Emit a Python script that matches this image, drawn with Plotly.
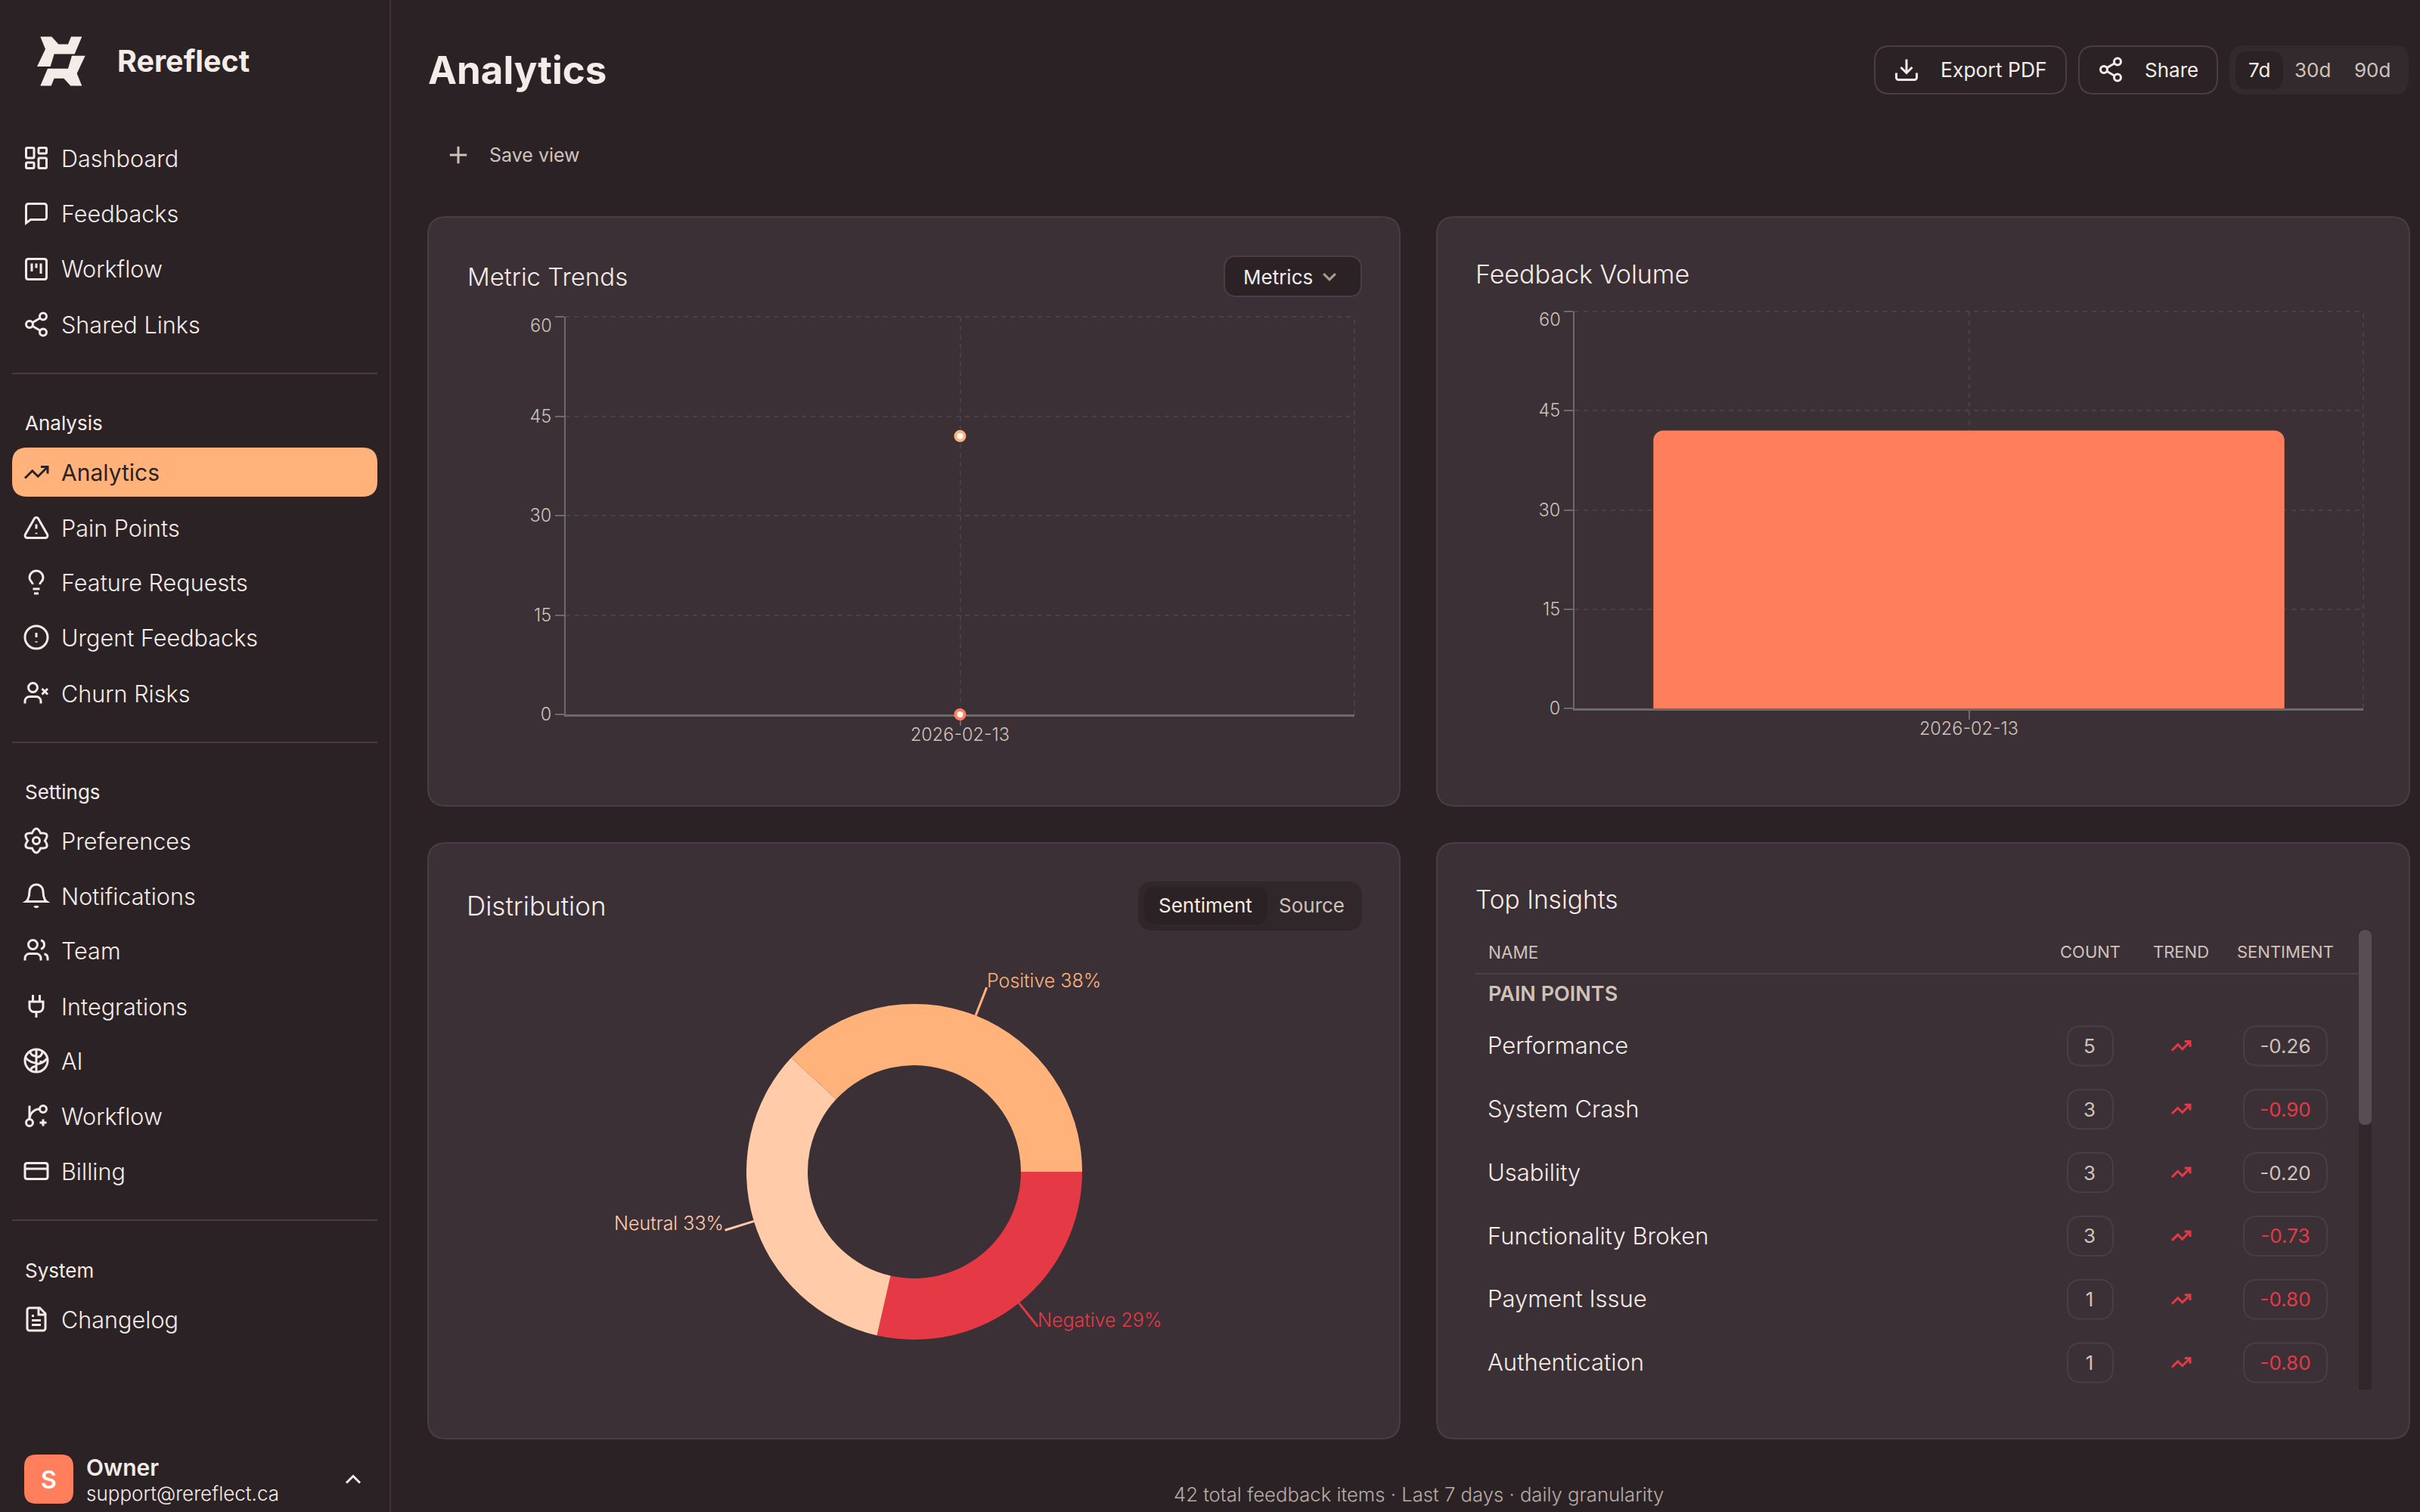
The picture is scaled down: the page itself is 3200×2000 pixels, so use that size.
import math
import re
import plotly.graph_objects as go

W, H = 3200, 2000
FONT = "Inter"

BG = "#2b2226"
CARD = "#3a3036"
BORDER = "#483e44"
TEXT = "#f3ece8"
MUTED = "#cfc2bb"
ORANGE = "#ffb37b"
CORAL = "#ff7f5c"
RED = "#e63946"
PEACH = "#ffcba8"
AXIS = "#6a6b6d"
GRID = "#4a4046"

# chart data
dates = ["2026-02-13"]
metric_total = [42]
metric_second = [0]
volume = [42]
y_ticks = [0, 15, 30, 45, 60]

sentiment_names = ["Positive", "Neutral", "Negative"]
sentiment_counts = [16, 14, 12]
sentiment_colors = [ORANGE, PEACH, RED]

insight_names = ["Performance", "System Crash", "Usability", "Functionality Broken", "Payment Issue", "Authentication"]
insight_counts = [5, 3, 3, 3, 1, 1]
insight_sentiment = [-0.26, -0.90, -0.20, -0.73, -0.80, -0.80]

footer_total = sum(sentiment_counts)

# sidebar: label, icon, row centre
nav_items = [
    ("Dashboard", "dashboard", 209), ("Feedbacks", "message", 283), ("Workflow", "kanban", 356),
    ("Shared Links", "share", 429), ("Analytics", "trend", 625), ("Pain Points", "alert", 698),
    ("Feature Requests", "bulb", 770), ("Urgent Feedbacks", "circle_alert", 843), ("Churn Risks", "user_x", 917),
    ("Preferences", "gear", 1112), ("Notifications", "bell", 1185), ("Team", "users", 1257),
    ("Integrations", "plug", 1331), ("AI", "brain", 1403), ("Workflow", "branch", 1476),
    ("Billing", "card", 1549), ("Changelog", "file", 1745),
]
nav_sections = [("Analysis", 559), ("Settings", 1047), ("System", 1680)]
nav_rules = [494, 982, 1614]


def px(x):
    return x / W


def py(y):
    return 1 - y / H


def rr(x0, y0, x1, y1, r):
    return (f"M {px(x0 + r)} {py(y0)} L {px(x1 - r)} {py(y0)} Q {px(x1)} {py(y0)} {px(x1)} {py(y0 + r)} "
            f"L {px(x1)} {py(y1 - r)} Q {px(x1)} {py(y1)} {px(x1 - r)} {py(y1)} "
            f"L {px(x0 + r)} {py(y1)} Q {px(x0)} {py(y1)} {px(x0)} {py(y1 - r)} "
            f"L {px(x0)} {py(y0 + r)} Q {px(x0)} {py(y0)} {px(x0 + r)} {py(y0)} Z")


shapes = []
annotations = []


def box(x0, y0, x1, y1, r, fill="rgba(0,0,0,0)", line=None, lw=2):
    shapes.append(dict(type="path", path=rr(x0, y0, x1, y1, r), xref="paper", yref="paper", layer="below",
                       fillcolor=fill, line=dict(color=line or "rgba(0,0,0,0)", width=lw if line else 0)))


def rule(x0, y0, x1, y1, color, lw=2, dash="solid"):
    shapes.append(dict(type="line", xref="paper", yref="paper", x0=px(x0), y0=py(y0), x1=px(x1), y1=py(y1),
                       layer="below", line=dict(color=color, width=lw, dash=dash)))


def label(x, y, s, size, color=TEXT, anchor="left", weight=400):
    if anchor == "left":
        x -= 1.5
    annotations.append(dict(text=s, x=px(x), y=py(y), xref="paper", yref="paper", showarrow=False, xanchor=anchor,
                            yanchor="middle", borderpad=0, font=dict(family=FONT, size=size, color=color, weight=weight)))


def circ(cx, cy, r):
    k = 0.5523 * r
    return (f"M {cx + r} {cy} C {cx + r} {cy + k} {cx + k} {cy + r} {cx} {cy + r} "
            f"C {cx - k} {cy + r} {cx - r} {cy + k} {cx - r} {cy} "
            f"C {cx - r} {cy - k} {cx - k} {cy - r} {cx} {cy - r} "
            f"C {cx + k} {cy - r} {cx + r} {cy - k} {cx + r} {cy} Z")


def rct(x, y, w, h, r):
    return (f"M {x + r} {y} L {x + w - r} {y} Q {x + w} {y} {x + w} {y + r} L {x + w} {y + h - r} "
            f"Q {x + w} {y + h} {x + w - r} {y + h} L {x + r} {y + h} Q {x} {y + h} {x} {y + h - r} "
            f"L {x} {y + r} Q {x} {y} {x + r} {y} Z")


def gear():
    pts = []
    for k in range(6):
        a = math.radians(k * 60 - 90)
        b = math.radians(k * 60 - 60)
        pts.append((12 + 14.6 * math.cos(a), 12 + 14.6 * math.sin(a), 12 + 7.6 * math.cos(b), 12 + 7.6 * math.sin(b)))
    a0 = math.radians(-120)
    d = f"M {12 + 7.6 * math.cos(a0)} {12 + 7.6 * math.sin(a0)} "
    for p in pts:
        d += f"Q {p[0]} {p[1]} {p[2]} {p[3]} "
    return d + "Z"


USER = "M16 21 L16 19 C16 16.8 14.2 15 12 15 L6 15 C3.8 15 2 16.8 2 19 L2 21"
ICONS = {
    "dashboard": [rct(3, 3, 7, 9, 1), rct(14, 3, 7, 5, 1), rct(14, 12, 7, 9, 1), rct(3, 16, 7, 5, 1)],
    "message": ["M21 15 C21 16.1 20.1 17 19 17 L7 17 L3 20 L3 5 C3 3.9 3.9 3 5 3 L19 3 C20.1 3 21 3.9 21 5 Z"],
    "kanban": [rct(3, 3, 18, 18, 2), "M8 7 L8 14", "M12 7 L12 11", "M16 7 L16 16"],
    "share": [circ(18, 5, 3), circ(6, 12, 3), circ(18, 19, 3), "M8.6 13.5 L15.4 17.5", "M15.4 6.5 L8.6 10.5"],
    "trend": ["M22 7 L13.5 15.5 L8.5 10.5 L2 17", "M16 7 L22 7 L22 13"],
    "alert": ["M21.73 18 L13.73 4 C12.96 2.67 11.04 2.67 10.27 4 L2.27 18 C1.5 19.33 2.46 21 4 21 L20 21 C21.54 21 22.5 19.33 21.73 18 Z",
              "M12 9 L12 13", "M12 16.5 L12 17.5"],
    "bulb": ["M15 14 C15.2 13 15.7 12.3 16.5 11.5 C17.5 10.6 18 9.3 18 8 C18 4.7 15.3 2 12 2 C8.7 2 6 4.7 6 8 C6 9 6.2 10.2 7.5 11.5 C8.2 12.2 8.8 13 9 14",
             "M9 18 L15 18", "M10 22 L14 22"],
    "circle_alert": [circ(12, 12, 10), "M12 8 L12 12", "M12 15.5 L12 16.5"],
    "user_x": [USER, circ(9, 7, 4), "M17 8 L22 13", "M22 8 L17 13"],
    "gear": [gear(), circ(12, 12, 3)],
    "bell": ["M6 8 C6 4.7 8.7 2 12 2 C15.3 2 18 4.7 18 8 C18 15 21 17 21 17 L3 17 C3 17 6 15 6 8 Z", "M10.3 21 C11 22 13 22 13.7 21"],
    "users": [USER, circ(9, 7, 4), "M22 21 L22 19 C22 17.2 20.8 15.6 19 15.13", "M16 3.13 C17.8 3.6 19 5.2 19 7 C19 8.8 17.8 10.4 16 10.87"],
    "plug": ["M12 22 L12 17", "M9 8 L9 2", "M15 8 L15 2", "M18 8 L18 13 C18 15.2 16.2 17 14 17 L10 17 C7.8 17 6 15.2 6 13 L6 8 Z"],
    "brain": [circ(12, 12, 10), "M12 2 L12 22", "M12 8 C9 8 7 6.5 6.5 4", "M12 14 C8 14 5 12 2.5 9.5", "M12 17 C9 17 7.5 18.5 7 20.5",
              "M12 9 C15 9 17 7 17.5 4", "M12 15 C16 15 19 13 21.5 10", "M16 12 L16 14.5"],
    "branch": ["M6 3 L6 15", circ(18, 6, 3), circ(6, 18, 3), "M15 6 C10 6 6 10 6 15", "M18 15 L18 21", "M21 18 L15 18"],
    "card": [rct(2, 5, 20, 14, 2), "M2 10 L22 10"],
    "file": ["M15 2 L6 2 C4.9 2 4 2.9 4 4 L4 20 C4 21.1 4.9 22 6 22 L18 22 C19.1 22 20 21.1 20 20 L20 7 Z", "M14 2 L14 8 L20 8",
             "M10 9 L8 9", "M16 13 L8 13", "M16 17 L8 17"],
    "download": ["M21 15 L21 19 C21 20.1 20.1 21 19 21 L5 21 C3.9 21 3 20.1 3 19 L3 15", "M7 10 L12 15 L17 10", "M12 15 L12 3"],
    "plus": ["M5 12 L19 12", "M12 5 L12 19"],
    "down": ["M6 9 L12 15 L18 9"],
    "up": ["M18 15 L12 9 L6 15"],
}


def icon(name, cx, cy, scale=1.5, color=TEXT, lw=3):
    for d in ICONS[name]:
        out = []
        n = 0
        for tok in re.findall(r"[MLCQZ]|-?\d+\.?\d*(?:e-?\d+)?", d):
            if tok.isalpha():
                out.append(tok)
            else:
                v = float(tok)
                out.append(str(px(cx + (v - 12) * scale)) if n % 2 == 0 else str(py(cy + (v - 12) * scale)))
                n += 1
        shapes.append(dict(type="path", path=" ".join(out), xref="paper", yref="paper", layer="above",
                           line=dict(color=color, width=lw)))


# sidebar
rule(516, 0, 516, H, "#3f353a")
for y in nav_rules:
    rule(16, y, 499, y, "#463c42")
box(16, 592, 499, 657, 20, fill=ORANGE)
logo_a = [(160, 112), (205, 112), (232, 135), (270, 135), (282, 112), (325, 112), (296, 165), (215, 165), (200, 203), (147, 203), (180, 150)]
logo_b = [(325, 262), (280, 262), (253, 239), (215, 239), (203, 262), (160, 262), (189, 209), (270, 209), (285, 170), (338, 170), (305, 224)]
for poly in (logo_a, logo_b):
    d = "M " + " L ".join(f"{px(p[0] / 3)} {py(p[1] / 2.306)}" for p in poly) + " Z"
    shapes.append(dict(type="path", path=d, xref="paper", yref="paper", fillcolor="#f3ece8", line=dict(width=0)))
label(155, 81, "Rereflect", 39.5, weight=700)
for name, ic, y in nav_items:
    active = name == "Analytics"
    col = BG if active else TEXT
    icon(ic, 48, y, color=col)
    label(81, y, name, 30 if active else 30.6, color=col, weight=400 if active else 300)
for name, y in nav_sections:
    label(33, y, name, 26)
box(32, 1924, 97, 1989, 16, fill=CORAL)
label(64.5, 1957, "S", 32, color="#fff", anchor="center", weight=600)
label(114, 1941, "Owner", 30, weight=600)
label(114, 1975, "support@rereflect.ca", 26, weight=300)
icon("up", 467, 1957)

# header
label(566, 92, "Analytics", 51, weight=700)
icon("plus", 606, 205, scale=1.6, color=MUTED)
label(647, 205, "Save view", 25, color=MUTED)
box(2479, 61, 2732, 124, 20, line=BORDER)
icon("download", 2521, 92)
label(2566, 92, "Export PDF", 26.5)
box(2749, 61, 2932, 124, 20, line=BORDER)
icon("share", 2791, 92)
label(2836, 92, "Share", 26)
box(2948, 60, 3185, 125, 20, fill="#332a2e")
box(2956, 68, 3019, 118, 16, fill=BG)
label(2987, 92, "7d", 26, anchor="center")
label(3058, 92, "30d", 26, color=MUTED, anchor="center")
label(3137, 92, "90d", 26, color=MUTED, anchor="center")

# cards
for x0, y0, x1, y1 in [(566, 287, 1851, 1066), (1900, 287, 3186, 1066), (566, 1115, 1851, 1903), (1900, 1115, 3186, 1903)]:
    box(x0, y0, x1, y1, 24, fill=CARD, line=BORDER)

label(618, 366, "Metric Trends", 33, weight=300)
box(1619, 339, 1800, 392, 16, fill=BG, line=BORDER)
label(1645, 366, "Metrics", 26)
icon("down", 1758, 366, scale=1.3, color="#a99c96")
label(1951, 362, "Feedback Volume", 34, weight=300)
label(617, 1198, "Distribution", 35, weight=300)
box(1505, 1166, 1801, 1231, 20, fill="#30272b")
box(1513, 1173, 1676, 1223, 16, fill=BG)
label(1594, 1197, "Sentiment", 26, anchor="center")
label(1734, 1197, "Source", 26, color=MUTED, anchor="center")
label(1951, 1190, "Top Insights", 33.5, weight=300)

label(1876, 1976, f"{footer_total} total feedback items · Last 7 days · daily granularity", 25.7, color="#b9aca6", anchor="center", weight=300)

fig = go.Figure()

# metric trends
fig.add_trace(go.Scatter(x=dates, y=metric_total, mode="markers", xaxis="x", yaxis="y", cliponaxis=False,
                         marker=dict(size=12, color="#ffffff", line=dict(color=ORANGE, width=4))))
fig.add_trace(go.Scatter(x=dates, y=metric_second, mode="markers", xaxis="x", yaxis="y", cliponaxis=False,
                         marker=dict(size=12, color="#ffffff", line=dict(color=CORAL, width=4))))
# feedback volume
fig.add_trace(go.Bar(x=dates, y=volume, xaxis="x2", yaxis="y2", marker=dict(color=CORAL, cornerradius=13, line=dict(width=0))))
# distribution: clockwise from east means the list runs backwards
fig.add_trace(go.Pie(labels=sentiment_names[::-1], values=sentiment_counts[::-1], hole=0.635, sort=False, direction="clockwise",
                     rotation=90, textinfo="none", marker=dict(colors=sentiment_colors[::-1], line=dict(width=0)),
                     domain=dict(x=[px(987), px(1431)], y=[py(1772), py(1328)])))

total = sum(sentiment_counts)
R = 222
start = 0.0
for name, count, col in zip(sentiment_names, sentiment_counts, sentiment_colors):
    sweep = 360.0 * count / total
    mid = math.radians(start + sweep / 2)
    start += sweep
    cx, cy = 1209, 1550
    x0, y0 = cx + R * math.cos(mid), cy - R * math.sin(mid)
    x1, y1 = cx + (R + 40) * math.cos(mid), cy - (R + 40) * math.sin(mid)
    rule(x0, y0, x1, y1, col, lw=3)
    right = math.cos(mid) > 0
    annotations.append(dict(text=f"{name} {round(100 * count / total)}%", x=px(x1), y=py(y1), xref="paper", yref="paper",
                            showarrow=False, xanchor="left" if right else "right", yanchor="middle", borderpad=0,
                            yshift=9, xshift=-1,
                            font=dict(family=FONT, size=25, color=col, weight=300)))

# insights table, on a hidden axis pair: x in canvas pixels, y by row
COL_NAME, COL_COUNT, COL_TREND, COL_SENT = 1968, 2763, 2884, 3022
ROW_TOP, ROW_STEP = 1383.5, 83.8
TEXT_DY = 3  # svg text sits a little high against the badges
fig.add_trace(go.Scatter(x=[COL_NAME - 1] * len(insight_names), y=insight_names, mode="text", text=insight_names, xaxis="x3", yaxis="y3",
                         textposition="middle right", cliponaxis=False, textfont=dict(family=FONT, size=31, color=TEXT, weight=300)))
fig.add_trace(go.Scatter(x=[COL_COUNT] * len(insight_names), y=insight_names, mode="text", text=[str(c) for c in insight_counts],
                         xaxis="x3", yaxis="y3", textposition="middle center", cliponaxis=False,
                         textfont=dict(family=FONT, size=26, color=MUTED)))
fig.add_trace(go.Scatter(x=[COL_SENT] * len(insight_names), y=insight_names, mode="text", text=[f"{s:.2f}" for s in insight_sentiment],
                         xaxis="x3", yaxis="y3", textposition="middle center", cliponaxis=False,
                         textfont=dict(family=FONT, size=26, color=[RED if s < -0.5 else MUTED for s in insight_sentiment])))
for i in range(len(insight_names)):
    y = ROW_TOP + i * ROW_STEP
    box(COL_COUNT - 29, y - 26, COL_COUNT + 31, y + 26, 18, line=BORDER)
    box(COL_SENT - 55, y - 26, COL_SENT + 55, y + 26, 18, line=BORDER)
    icon("trend", COL_TREND, y, scale=1.2, color=RED)

label(COL_NAME, 1259, "NAME", 22.5, color=MUTED)
label(COL_COUNT + 1, 1259, "COUNT", 22, color=MUTED, anchor="center")
label(COL_TREND, 1259, "TREND", 22, color=MUTED, anchor="center")
label(COL_SENT, 1259, "SENTIMENT", 22, color=MUTED, anchor="center")
rule(1951, 1288, 3119, 1288, "#4a4046")
label(COL_NAME, 1314, "PAIN POINTS", 27, color=MUTED, weight=600)
box(3119, 1230, 3136, 1838, 0, fill="#30272b")
box(3119, 1230, 3136, 1488, 8, fill="#574d53")


def xaxis(domain, anchor):
    return dict(domain=[px(domain[0]), px(domain[1])], anchor=anchor, type="category", range=[-0.5, 0.5], showgrid=True,
                griddash="6px,6px", gridcolor=GRID, gridwidth=2, showline=True, linecolor=AXIS, linewidth=3, ticks="outside",
                ticklen=12, tickwidth=2, tickcolor=AXIS, zeroline=False, fixedrange=True, automargin=False, layer="below traces",
                ticklabelstandoff=-8, tickfont=dict(family=FONT, size=23.5, color=MUTED, weight=300))


def yaxis(domain, anchor):
    return dict(domain=[py(domain[1]), py(domain[0])], anchor=anchor, range=[0, 60], tickvals=y_ticks,
                ticktext=[str(t) for t in y_ticks[:-1]] + [" "], showgrid=True, griddash="6px,6px", gridcolor=GRID, gridwidth=2,
                showline=True, linecolor=AXIS, linewidth=2, ticks="outside", ticklen=12, tickwidth=2, tickcolor=AXIS,
                zeroline=False, fixedrange=True, automargin=False, layer="below traces",
                tickfont=dict(family=FONT, size=23.5, color=MUTED, weight=300))


# recharts pushes the top label below its tick, and draws the grid border on the top and right too
for xr, yr, top_x in [("x", "y", 748), ("x2", "y2", 2082)]:
    annotations.append(dict(text=str(y_ticks[-1]), x=px(top_x - 17), y=y_ticks[-1], xref="paper", yref=yr, showarrow=False,
                            xanchor="right", yanchor="middle", yshift=-11, borderpad=0,
                            font=dict(family=FONT, size=23.5, color=MUTED, weight=300)))
    shapes.append(dict(type="line", xref=f"{xr} domain", yref=f"{yr} domain", x0=1, x1=1, y0=0, y1=1, layer="below",
                       line=dict(color=GRID, width=2, dash="6px,6px")))
    shapes.append(dict(type="line", xref=f"{xr} domain", yref=f"{yr} domain", x0=0, x1=1, y0=1, y1=1, layer="below",
                       line=dict(color=GRID, width=2, dash="6px,6px")))

fig.update_layout(
    template="none",
    width=W, height=H, margin=dict(l=0, r=0, t=0, b=0, pad=0), showlegend=False, hovermode=False,
    paper_bgcolor=BG, plot_bgcolor="rgba(0,0,0,0)", bargap=0.2,
    xaxis=xaxis((748, 1791), "y"), yaxis=yaxis((419, 945), "x"),
    xaxis2=xaxis((2082, 3125), "y2"), yaxis2=yaxis((412, 937), "x2"),
    xaxis3=dict(domain=[0, 1], range=[0, W], visible=False, fixedrange=True, automargin=False, anchor="y3"),
    yaxis3=dict(domain=[py(ROW_TOP + TEXT_DY + 5.5 * ROW_STEP), py(ROW_TOP + TEXT_DY - 0.5 * ROW_STEP)], type="category", anchor="x3",
                categoryorder="array", categoryarray=insight_names, range=[5.5, -0.5], visible=False, fixedrange=True, automargin=False),
    shapes=shapes, annotations=annotations, font=dict(family=FONT),
)

fig.write_html("out.html", post_script="document.body.style.margin='0';", config={"displayModeBar": False})
